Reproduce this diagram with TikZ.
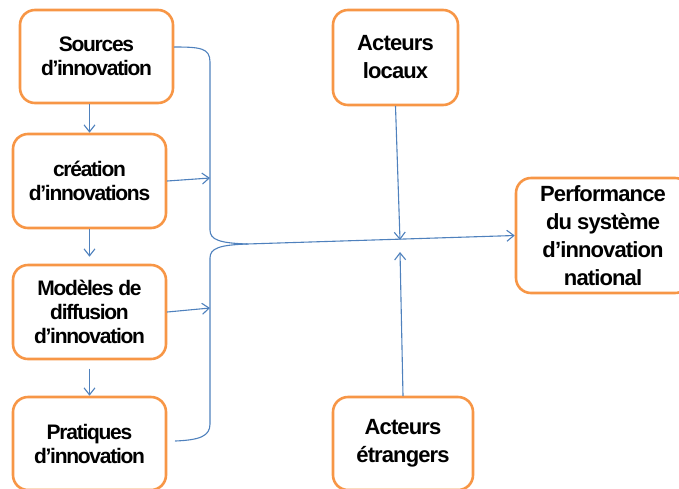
\documentclass[tikz,border=0pt]{standalone}
\usepackage{fontspec}
\setmainfont{Liberation Sans}
\newfontfamily\boxfont[LetterSpace=-6]{Liberation Sans}
\newfontfamily\bigfont[LetterSpace=-4]{Liberation Sans}
\usetikzlibrary{arrows.meta}
\begin{document}
\begin{tikzpicture}[x=1pt, y=-1pt, line cap=round, line join=round,
  box/.style={draw=boxorange, line width=2.6pt, rounded corners=15pt, align=center,
    inner sep=0pt, font=\boxfont\bfseries\fontsize{21}{24}\selectfont},
  bigbox/.style={box, font=\bigfont\bfseries\fontsize{22}{28}\selectfont},
  link/.style={draw=linkblue, line width=1.1pt},
  feed/.style={link, -{Straight Barb[length=7pt,width=11pt]}}]
  \definecolor{boxorange}{RGB}{247,150,70}
  \definecolor{linkblue}{RGB}{79,129,189}
  \useasboundingbox (0,0) rectangle (679,488);
  \clip (0,0) rectangle (679,488);
  \node[box, minimum width=153, minimum height=93] (src) at (96.5,56.5) {Sources\\d’innovation};
  \node[box, minimum width=153, minimum height=94] (cre) at (89.5,181) {création\\d’innovations};
  \node[box, minimum width=153, minimum height=94] (mod) at (89.5,312) {Modèles de\\diffusion\\d’innovation};
  \node[box, minimum width=153, minimum height=93] (pra) at (89.5,443.5) {Pratiques\\d’innovation};
  \node[bigbox, minimum width=125, minimum height=95] (loc) at (395.5,57.5) {Acteurs\\locaux};
  \node[bigbox, minimum width=140, minimum height=93] (etr) at (403,443.5) {Acteurs\\étrangers};
  \node[bigbox, minimum width=174, minimum height=115] (perf) at (603,235.5) {Performance\\du système\\d’innovation\\national};
  \coordinate (tip) at (247,244);
  \coordinate (hit) at (400,240);
  \coordinate (hitlow) at (400,252);
  \coordinate (in1) at (210,178);
  \coordinate (in2) at (210,308);
  \draw[feed] (src.south -| cre.north) -- (cre.north);
  \draw[feed] (cre.south) -- ([yshift=7pt]mod.north);
  \draw[feed] ([yshift=-9pt]mod.south) -- (pra.north);
  \draw[feed] (cre.east) -- (in1);
  \draw[feed] (mod.east) -- (in2);
  \draw[link] ([yshift=9.5pt]src.east) .. controls (200,47) and (210,48) .. (210,62)
    -- (210,230) .. controls (210,240) and (220,243) .. (tip);
  \draw[link] (tip) .. controls (220,245) and (210,248) .. (210,258)
    -- (210,424) .. controls (210,436) and (200,440) .. ([xshift=8pt,yshift=2.5pt]pra.east);
  \draw[feed] (tip) -- (perf.west);
  \draw[feed] (loc.south) -- (hit);
  \draw[feed] (etr.north) -- (hitlow);
\end{tikzpicture}
\end{document}
